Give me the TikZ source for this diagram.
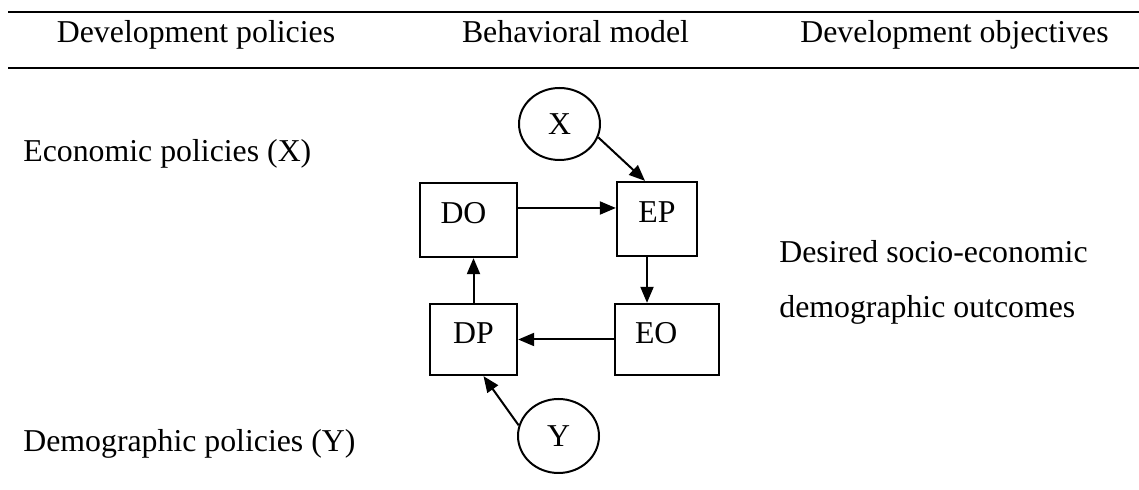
\documentclass[tikz,border=0pt]{standalone}
\usepackage{fontspec}
\setmainfont{Liberation Serif}
\usetikzlibrary{arrows.meta,shapes.geometric}

\tikzset{
  txt/.style={inner sep=0pt, anchor=base, font=\fontsize{15.9pt}{19pt}\selectfont},
  txtw/.style={txt, anchor=base west},
  box/.style={draw, line width=1.15pt, rectangle, inner sep=0pt,
              text height=8pt, text depth=4pt,
              font=\fontsize{15.9pt}{19pt}\selectfont},
  oval/.style={draw, line width=1pt, ellipse, inner sep=0pt,
               font=\fontsize{15.9pt}{19pt}\selectfont},
  link/.style={line width=1pt, -{Triangle[length=8pt,width=6.5pt]}},
  rule/.style={line width=1pt}
}

\begin{document}
\begin{tikzpicture}[x=0.5pt,y=-0.5pt]
  \useasboundingbox[fill=white] (0,0) rectangle (1139,490);

  % table rules
  \draw[rule] (8,12) -- (1139,12);
  \draw[rule] (8,68) -- (1139,68);

  % column headings
  \node[txt] (h1) at (196,42.3) {Development policies};
  \node[txt] (h2) at (575.5,42.3) {Behavioral model};
  \node[txt] (h3) at (954.5,42.3) {Development objectives};

  % side captions
  \node[txtw] (econ) at (23,162) {Economic policies (X)};
  \node[txtw] (demo) at (23,451.7) {Demographic policies (Y)};
  \node[txtw] (des1) at (779,263) {Desired socio-economic};
  \node[txtw] (des2) at (779,318) {demographic outcomes};

  % behavioral model
  \node[box, minimum width=48.5pt, minimum height=37pt,
        text width=28pt, align=left] (DO) at (468.5,220) {DO};
  \node[box, minimum width=40pt, minimum height=37pt] (EP) at (657,219) {EP};
  \node[box, minimum width=43.5pt, minimum height=35.5pt] (DP) at (473.5,339.5) {DP};
  \node[box, minimum width=52pt, minimum height=35.5pt,
        text width=32pt, align=left] (EO) at (667,339.5) {EO};
  \node[oval, minimum width=40.5pt, minimum height=36pt] (X) at (559.5,124) {X};
  \node[oval, minimum width=40.5pt, minimum height=37pt] (Y) at (558.5,436) {Y};

  % influences
  \draw[link] ([yshift=6pt]DO.east) -- ([yshift=5.5pt]EP.west);
  \draw[link] (X.-19) -- ([xshift=-6pt]EP.north);
  \draw[link] ([xshift=-5pt]EP.south) -- ([xshift=-10pt]EO.north);
  \draw[link] (EO.west) -- (DP.east);
  \draw[link] (DP.north) -- (DP.north |- DO.south);
  \draw[link] (Y.165) -- ([xshift=5pt]DP.south);
\end{tikzpicture}
\end{document}
